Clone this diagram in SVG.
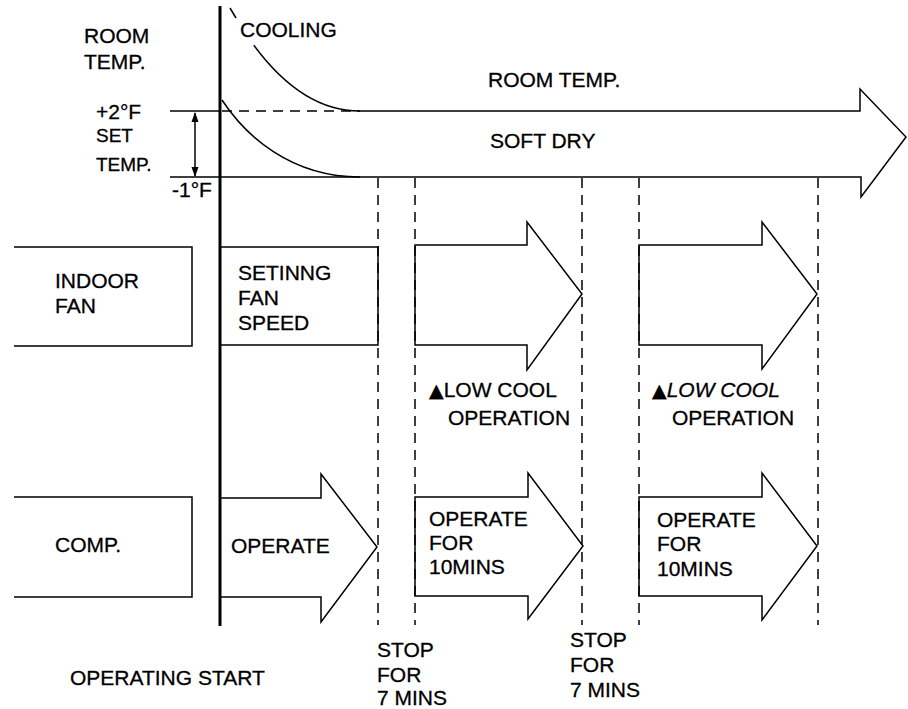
<svg xmlns="http://www.w3.org/2000/svg" width="908" height="709" viewBox="0 0 908 709">
<style>
.ln{fill:none;stroke:#000;stroke-width:1.5;stroke-linejoin:miter}
.main{fill:none;stroke:#000;stroke-width:3}
.dash{fill:none;stroke:#000;stroke-width:1.5;stroke-dasharray:10 7}
.t{font-family:"Liberation Sans",Arial,sans-serif;font-size:21px;fill:#000;stroke:#000;stroke-width:0.3}
.s{font-size:19px}
.tri{font-family:"DejaVu Sans",sans-serif;font-size:19px}
</style>
<defs>
<marker id="ah" markerWidth="10" markerHeight="10" refX="9" refY="5" orient="auto-start-reverse" markerUnits="userSpaceOnUse">
<path d="M0,1.5 L10,5 L0,8.5 Z" fill="#000"/>
</marker>
</defs>
<rect width="908" height="709" fill="#fff"/>

<g id="connectors">
<line class="main" x1="220" y1="6" x2="220" y2="626"/>
<line class="ln" x1="170" y1="111" x2="220" y2="111"/>
<line class="dash" x1="222" y1="111" x2="357" y2="111"/>
<line class="ln" x1="195" y1="113" x2="195" y2="176" marker-start="url(#ah)" marker-end="url(#ah)"/>
<path class="ln" d="M230,8 L236,18"/>
<path class="ln" d="M253.8,45.1 Q302.4,111 360,111"/>
<path class="ln" d="M222,100 C245,135 290,177 360,177"/>
<line class="dash" x1="378" y1="178" x2="378" y2="625"/>
<line class="dash" x1="415" y1="178" x2="415" y2="625"/>
<line class="dash" x1="582" y1="178" x2="582" y2="625"/>
<line class="dash" x1="639" y1="178" x2="639" y2="625"/>
<line class="dash" x1="818" y1="178" x2="818" y2="625"/>
</g>

<g id="room-temp-label">
<text class="t" x="84" y="43">ROOM</text>
<text class="t" x="84" y="69">TEMP.</text>
</g>
<g id="set-temp-label">
<text class="t" x="96" y="119">+2°F</text>
<text class="t s" x="96" y="142">SET</text>
<text class="t s" x="96" y="171">TEMP.</text>
<text class="t" x="172" y="197">-1°F</text>
</g>
<g id="cooling">
<text class="t" x="240" y="37">COOLING</text>
</g>
<g id="soft-dry">
<path class="ln" d="M357,111 H860 V89 L906,137 L861,197 V177 H170"/>
<text class="t" x="488" y="87">ROOM TEMP.</text>
<text class="t" x="490" y="148">SOFT DRY</text>
</g>

<g id="indoor-fan">
<path class="ln" d="M14,247 H192 V346 H14"/>
<text class="t" x="55" y="288">INDOOR</text>
<text class="t" x="55" y="313">FAN</text>
</g>
<g id="setting-fan-speed">
<path class="ln" d="M220,247 H378 V345 H220"/>
<text class="t" x="238" y="280">SETINNG</text>
<text class="t" x="238" y="305">FAN</text>
<text class="t" x="238" y="330">SPEED</text>
</g>
<g id="low-cool-1">
<path class="ln" d="M415,245 H527 V222 L582,294 L527,370 V345 H415 Z"/>
<text class="t" x="429" y="397"><tspan class="tri">▲</tspan>LOW COOL</text>
<text class="t" x="448" y="425">OPERATION</text>
</g>
<g id="low-cool-2">
<path class="ln" d="M639,245 H762 V222 L817,294 L762,369 V345 H639 Z"/>
<text class="t" x="652" y="397"><tspan class="tri">▲</tspan><tspan font-style="italic">LOW COOL</tspan></text>
<text class="t" x="672" y="425">OPERATION</text>
</g>

<g id="comp">
<path class="ln" d="M14,497 H192 V597 H14"/>
<text class="t" x="55" y="552">COMP.</text>
</g>
<g id="operate-1">
<path class="ln" d="M220,498 H321 V474 L377,547 L321,622 V597 H220"/>
<text class="t" x="231" y="553">OPERATE</text>
</g>
<g id="operate-2">
<path class="ln" d="M415,497 H528 V473 L583,546 L528,619 V596 H415 Z"/>
<text class="t" x="429" y="526">OPERATE</text>
<text class="t" x="429" y="550">FOR</text>
<text class="t" x="429" y="574">10MINS</text>
</g>
<g id="operate-3">
<path class="ln" d="M639,497 H762 V473 L817,546 L762,620 V596 H639 Z"/>
<text class="t" x="657" y="527">OPERATE</text>
<text class="t" x="657" y="551">FOR</text>
<text class="t" x="657" y="576">10MINS</text>
</g>

<g id="stop-1">
<text class="t" x="377" y="657">STOP</text>
<text class="t" x="377" y="682">FOR</text>
<text class="t" x="377" y="705">7 MINS</text>
</g>
<g id="stop-2">
<text class="t" x="570" y="647">STOP</text>
<text class="t" x="570" y="672">FOR</text>
<text class="t" x="570" y="697">7 MINS</text>
</g>
<g id="operating-start">
<text class="t" x="70" y="685">OPERATING START</text>
</g>
</svg>
